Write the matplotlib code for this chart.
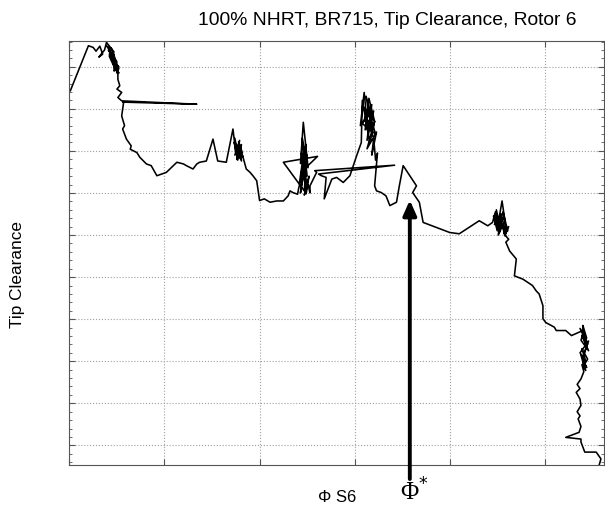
import matplotlib
matplotlib.use("Agg")
import matplotlib.pyplot as plt
from matplotlib.ticker import MultipleLocator

plt.rcParams["font.family"] = ["Liberation Sans", "DejaVu Sans"]

# Tip clearance trace (grid units), piece by piece
lead_phi = [0.01, 0.20, 0.25, 0.28, 0.32, 0.35, 0.31, 0.37]
lead_clr = [9.43, 10.50, 10.46, 10.37, 10.49, 10.30, 10.23, 10.40]

c1_phi = [0.39, 0.47, 0.39, 0.48, 0.44, 0.42, 0.50, 0.41, 0.50, 0.48, 0.42, 0.52,
          0.50, 0.49, 0.47, 0.47, 0.46, 0.52, 0.44, 0.52, 0.47, 0.51, 0.50, 0.51]
c1_clr = [10.58, 10.35, 10.50, 10.20, 10.45, 10.28, 10.05, 10.40, 10.12, 9.95, 10.25, 10.00,
          9.88, 10.15, 9.92, 10.30, 10.08, 9.85, 10.18, 9.95, 9.90, 10.02, 9.86, 9.82]

s2_phi = [0.51, 0.53, 0.50, 0.55, 0.51, 0.55, 1.34, 0.56, 0.57, 0.55, 0.58, 0.56,
          0.60, 0.65, 0.64, 0.71, 0.74, 0.78, 0.81, 0.86, 0.92, 1.02, 1.13, 1.20,
          1.23, 1.30, 1.34, 1.37, 1.44, 1.51, 1.56, 1.65]
s2_clr = [9.70, 9.55, 9.47, 9.39, 9.27, 9.19, 9.11, 9.16, 9.15, 8.83, 8.60, 8.52,
          8.28, 8.12, 8.04, 7.96, 7.85, 7.76, 7.69, 7.65, 7.41, 7.49, 7.73, 7.69,
          7.65, 7.57, 7.69, 7.73, 7.76, 8.28, 7.76, 7.73]

c2_phi = [1.72, 1.75, 1.74, 1.78, 1.73, 1.80, 1.76, 1.79, 1.74, 1.81,
          1.77, 1.75, 1.82, 1.78, 1.80, 1.76, 1.81, 1.79, 1.82, 1.82]
c2_clr = [8.52, 7.95, 8.30, 7.85, 8.20, 8.05, 7.80, 8.25, 7.90, 8.15,
          7.78, 8.10, 7.95, 8.22, 7.82, 8.00, 7.76, 8.08, 7.85, 7.90]

s3_phi = [1.86, 1.90, 1.93, 1.97, 2.00, 2.05, 2.11, 2.18, 2.25, 2.30, 2.32, 2.35, 2.40]
s3_clr = [7.57, 7.49, 7.41, 7.29, 6.82, 6.86, 6.78, 6.81, 6.81, 6.93, 7.05, 7.01, 6.97]

c3_phi = [2.41, 2.46, 2.43, 2.49, 2.42, 2.47, 2.50, 2.44, 2.48, 2.45,
          2.51, 2.46, 2.43, 2.49, 2.45, 2.50, 2.47, 2.25, 2.61, 2.44,
          2.50, 2.46, 2.49, 2.52, 2.47, 2.51, 2.53]
c3_clr = [7.10, 7.55, 7.00, 7.80, 7.25, 8.05, 7.40, 7.95, 7.15, 8.30,
          7.60, 8.68, 7.70, 8.15, 7.35, 7.90, 7.05, 7.73, 7.87, 7.50,
          7.20, 7.65, 6.98, 7.40, 6.95, 7.20, 7.00]

s4_phi = [2.53, 2.60, 2.58, 3.42, 2.62, 2.65, 2.70, 2.68, 2.76, 2.81, 2.88, 2.95, 3.02, 3.07]
s4_clr = [7.17, 7.49, 7.53, 7.66, 7.45, 7.41, 7.37, 6.86, 7.33, 7.37, 7.25, 7.41, 7.88, 8.20]

c4_phi = [3.07, 3.08, 3.14, 3.10, 3.06, 3.17, 3.12, 3.19, 3.09, 3.21,
          3.15, 3.11, 3.20, 3.13, 3.18, 3.08, 3.22, 3.14, 3.19, 3.11,
          3.16, 3.21, 3.13, 3.23, 3.18, 3.20, 3.22, 3.24]
c4_clr = [8.20, 9.20, 8.45, 9.39, 8.60, 8.90, 9.30, 8.35, 9.05, 8.70,
          9.25, 8.50, 8.95, 8.25, 9.10, 8.65, 8.40, 9.00, 8.55, 8.80,
          8.20, 8.70, 8.05, 8.45, 7.90, 8.30, 7.78, 7.95]

s5_phi = [3.21, 3.23, 3.28, 3.33, 3.37, 3.44, 3.47, 3.51, 3.58, 3.65, 3.61, 3.68,
          3.72, 4.00, 4.10, 4.31, 4.40]
s5_clr = [7.17, 7.05, 7.01, 6.93, 6.70, 6.78, 7.17, 7.65, 7.41, 7.17, 7.01, 6.78,
          6.30, 6.06, 6.03, 6.34, 6.22]

c5_phi = [4.45, 4.48, 4.50, 4.46, 4.53, 4.49, 4.52, 4.56, 4.47, 4.54,
          4.51, 4.58, 4.55, 4.50, 4.57, 4.59, 4.53, 4.56, 4.61, 4.55,
          4.58, 4.62, 4.57, 4.60, 4.62]
c5_clr = [6.30, 6.55, 6.10, 6.45, 6.20, 6.60, 6.05, 6.40, 6.25, 6.50,
          6.00, 6.35, 6.81, 6.15, 6.45, 6.05, 6.30, 6.55, 6.10, 6.25,
          5.98, 6.20, 6.05, 5.95, 5.90]

s6_phi = [4.59, 4.63, 4.70, 4.68, 4.77, 4.87, 4.91, 4.94, 4.98, 4.98, 5.01, 5.10,
          5.12, 5.22, 5.28, 5.40]
s6_clr = [5.83, 5.62, 5.43, 5.03, 4.95, 4.80, 4.67, 4.60, 4.32, 4.01, 3.92, 3.81,
          3.73, 3.73, 3.61, 3.73]

c6_phi = [5.40, 5.44, 5.37, 5.45, 5.41, 5.38, 5.46, 5.39, 5.44, 5.40,
          5.46, 5.37, 5.43, 5.39, 5.45, 5.41, 5.38, 5.44, 5.40, 5.43,
          5.39, 5.41]
c6_clr = [3.85, 3.55, 3.78, 3.40, 3.70, 3.50, 3.25, 3.62, 3.35, 3.10,
          3.48, 3.20, 3.00, 3.30, 3.05, 2.90, 3.15, 2.85, 3.00, 2.78,
          2.92, 2.75]

tail_phi = [5.38, 5.34, 5.37, 5.33, 5.37, 5.38, 5.34, 5.37, 5.35, 5.38, 5.36, 5.22,
            5.38, 5.38, 5.42, 5.54, 5.59, 5.57]
tail_clr = [2.58, 2.45, 2.35, 2.26, 2.10, 1.95, 1.80, 1.70, 1.63, 1.45, 1.31, 1.19,
            1.15, 1.08, 0.84, 0.84, 0.68, 0.52]

phi = (lead_phi + c1_phi + s2_phi + c2_phi + s3_phi + c3_phi + s4_phi
       + c4_phi + s5_phi + c5_phi + s6_phi + c6_phi + tail_phi)
clearance = (lead_clr + c1_clr + s2_clr + c2_clr + s3_clr + c3_clr + s4_clr
             + c4_clr + s5_clr + c5_clr + s6_clr + c6_clr + tail_clr)

phi_star = 3.58
phi_star_tip = 6.83

fig = plt.figure(figsize=(6.05, 5.06), dpi=100)
ax = fig.add_axes([0.1147, 0.0796, 0.8833, 0.838])

ax.plot(phi, clearance, color="black", linewidth=1.15)

ax.set_xlim(0, 5.62)
ax.set_ylim(0.54, 10.62)
ax.xaxis.set_major_locator(MultipleLocator(1))
ax.yaxis.set_major_locator(MultipleLocator(1))
ax.yaxis.set_minor_locator(MultipleLocator(0.2))
ax.tick_params(which="both", direction="in", top=True, right=True,
               labelbottom=False, labelleft=False, color="#555555")
ax.tick_params(which="major", length=4)
ax.tick_params(which="minor", length=2)
ax.grid(True, which="major", linestyle=":", color="#a0a0a0", linewidth=0.8)
for s in ax.spines.values():
    s.set_color("#555555")

ax.set_xlabel("\u03a6 S6", fontsize=12)
ax.xaxis.set_label_coords(0.5015, -0.058)
ax.set_ylabel("Tip Clearance", fontsize=12.4)
ax.yaxis.set_label_coords(-0.083, 0.45)

fig.text(0.6405, 0.959, "100% NHRT, BR715, Tip Clearance, Rotor 6",
         ha="center", va="center", fontsize=13.9)

# Phi* marker arrow
ax.annotate("", xy=(phi_star, phi_star_tip), xytext=(phi_star, 0.2),
            annotation_clip=False,
            arrowprops=dict(arrowstyle="-|>,head_length=0.9,head_width=0.4",
                            color="black", linewidth=2.8, shrinkA=0, shrinkB=0))
fig.text(414 / 605, 1 - 492 / 506, "\u03a6$^{*}$", family="Liberation Serif",
         fontsize=18, ha="center", va="center")

fig.savefig("out.png", dpi=100)
